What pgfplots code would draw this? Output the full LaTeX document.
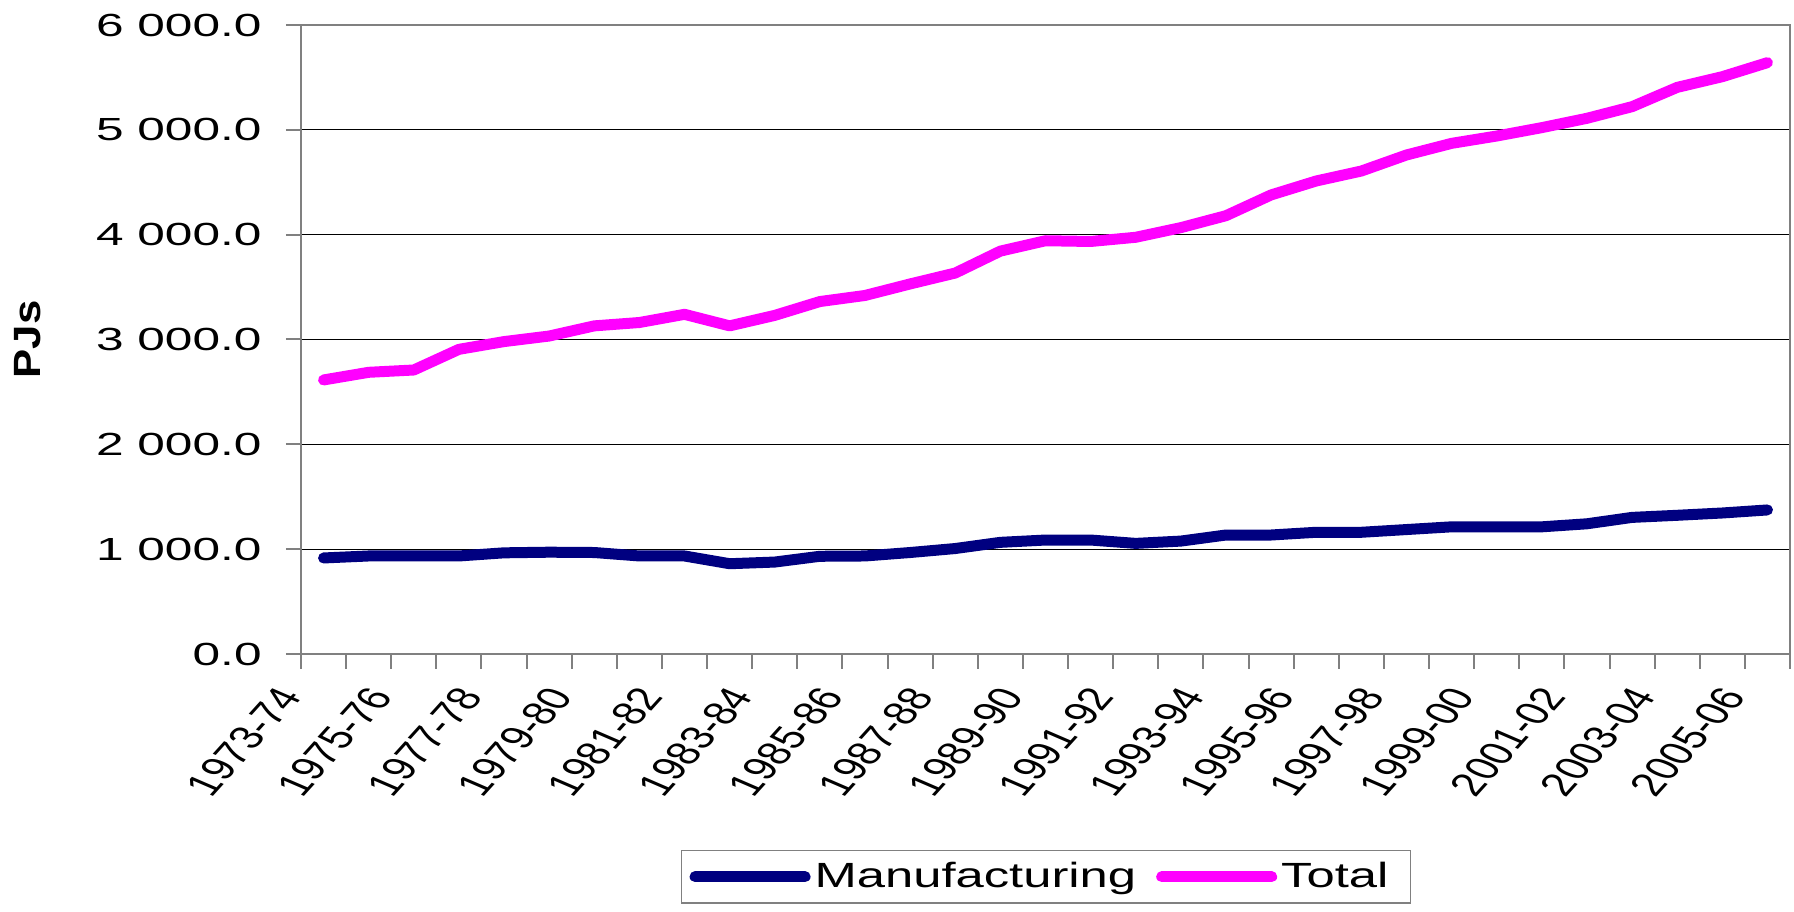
\documentclass[border=0pt]{standalone}
\usepackage{fontspec}
\setmainfont{Liberation Sans}
\newfontfamily\tickfont{Liberation Sans}[FakeStretch=1.55]
\newfontfamily\legfont{Liberation Sans}[FakeStretch=1.45]
\newfontfamily\labfont{Liberation Sans}[FakeStretch=1.15]
\usepackage{pgfplots}
\pgfplotsset{compat=1.18}
\usepackage{pgfplotstable}

\definecolor{manu}{RGB}{0,0,128}
\definecolor{tot}{RGB}{255,0,255}
\definecolor{axgray}{RGB}{128,128,128}

% 33 financial years, 1973-74 .. 2005-06 (PJ)
\pgfplotstableread{
i manu total
0  916  2614
1  935  2687
2  935  2709
3  935  2906
4  965  2980
5  971  3033
6  968  3130
7  935  3162
8  935  3240
9  861  3130
10 877  3230
11 932  3362
12 935  3420
13 968  3530
14 1006 3634
15 1065 3843
16 1087 3942
17 1087 3935
18 1055 3975
19 1077 4067
20 1135 4181
21 1135 4379
22 1161 4512
23 1161 4607
24 1187 4760
25 1213 4871
26 1213 4941
27 1213 5021
28 1242 5110
29 1303 5221
30 1323 5405
31 1345 5507
32 1374 5641
}\energy

\begin{document}
\begin{tikzpicture}
  \begin{axis}[
    scale only axis,
    width=744.5pt, height=314.5pt,
    xmin=-0.5, xmax=32.5,
    ymin=0, ymax=6000,
    axis line style={draw=axgray, line width=1pt},
    tick align=outside,
    xtick pos=bottom, ytick pos=left,
    tick style={draw=axgray, line width=1pt},
    major tick length=7.5pt,
    xtick={-0.5,0.5,...,32.5},
    xticklabels={},
    extra x ticks={0,2,...,32},
    extra x tick labels={1973-74,1975-76,1977-78,1979-80,1981-82,1983-84,1985-86,1987-88,1989-90,1991-92,1993-94,1995-96,1997-98,1999-00,2001-02,2003-04,2005-06},
    extra x tick style={major tick length=0pt,
      xticklabel style={font=\fontsize{16.3pt}{19pt}\selectfont, inner sep=0pt,
        anchor=north east, xshift=-24pt, yshift=-15pt, xscale=1.45, rotate=58}},
    ytick={0,1000,...,6000},
    ymajorgrids,
    grid style={draw=black, line width=0.5pt},
    yticklabel style={font=\tickfont\fontsize{16pt}{19pt}\selectfont, inner sep=0pt, anchor=east, xshift=-12pt},
    /pgf/number format/assume math mode=true,
    yticklabel={\pgfmathprintnumber[fixed, fixed zerofill, precision=1, 1000 sep={\ }]{\tick}},
    ylabel={\labfont\bfseries PJs},
    ylabel style={font=\fontsize{19pt}{22pt}\selectfont, at={(axis description cs:-0.1834,0.5)}, anchor=center},
    legend columns=-1,
    legend style={at={(axis description cs:0.2552,-0.3116)}, anchor=north west,
      draw=axgray, line width=0.6pt, inner xsep=4pt, inner ysep=4pt,
      font=\legfont\fontsize{17.5pt}{21pt}\selectfont,
      /tikz/every even column/.append style={column sep=8pt}},
    legend image code/.code={\draw[#1, line cap=round] (0pt,0pt) -- (55pt,0pt);},
    every axis plot/.append style={line width=5.5pt, line join=round, line cap=round},
  ]
    \addplot[manu] table[x=i, y=manu] {\energy};
    \addlegendentry{Manufacturing}
    \addplot[tot] table[x=i, y=total] {\energy};
    \addlegendentry{Total\hspace{5pt}\rule[-34pt]{0pt}{0pt}}
  \end{axis}
  \pgfresetboundingbox
  \useasboundingbox ([xshift=-150.5pt, yshift=-129pt]current axis.south west)
    rectangle ([xshift=2pt, yshift=12.5pt]current axis.north east);
\end{tikzpicture}
\end{document}
